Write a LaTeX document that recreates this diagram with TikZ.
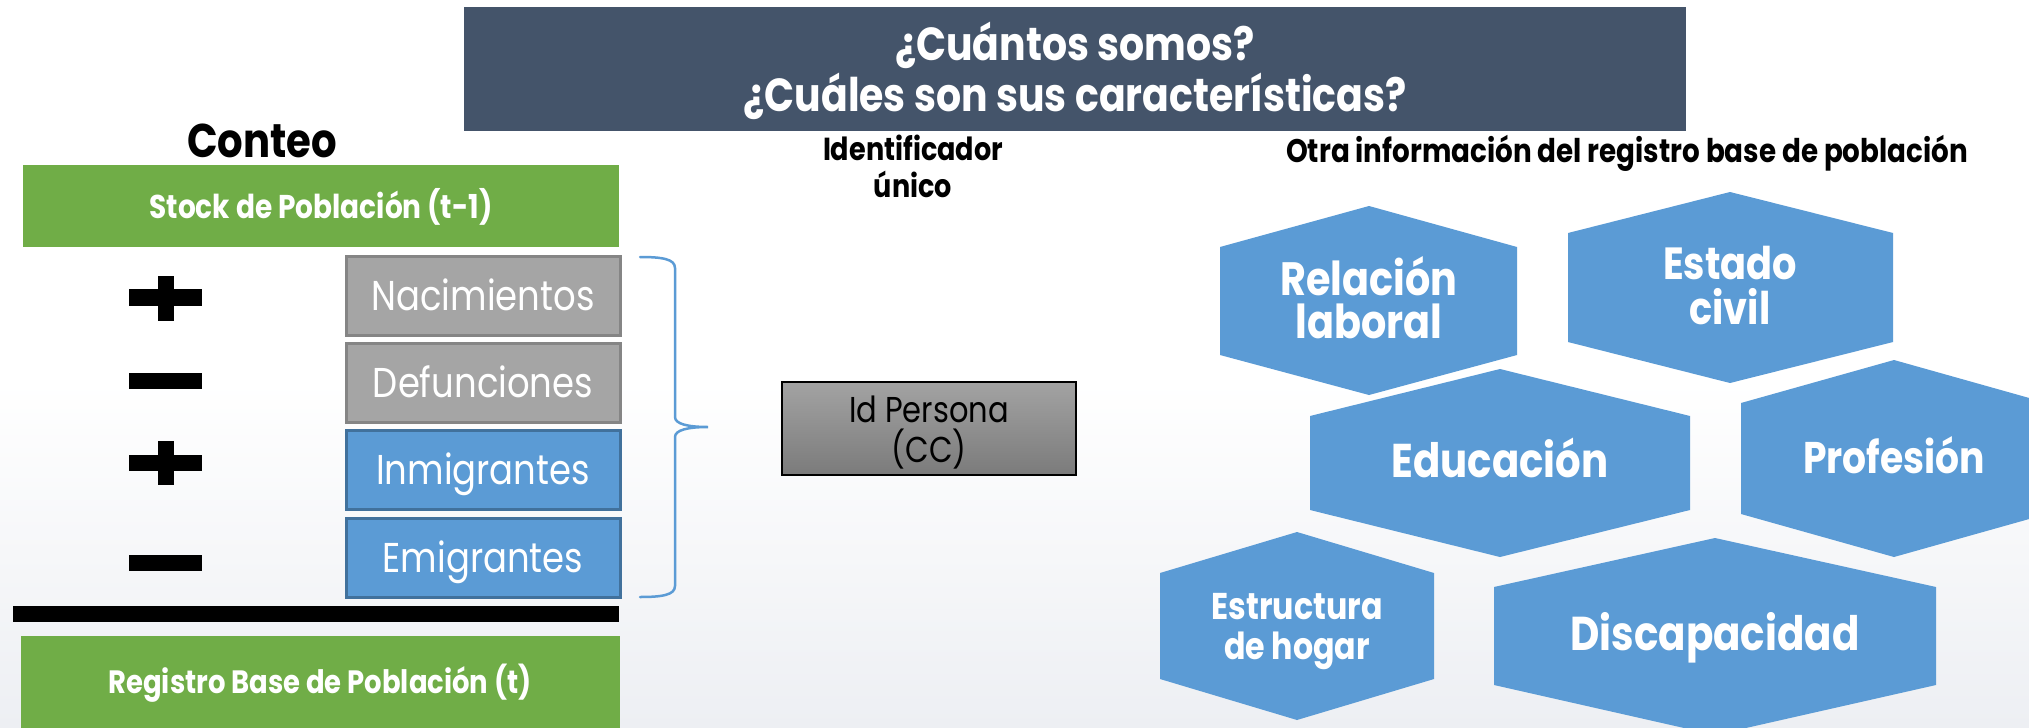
\documentclass[tikz,border=0pt]{standalone}
\usepackage{fontspec}
\setmainfont{Poppins}[FakeStretch=0.85]
\newcommand\fitsize[3]{%
  \fontsize{10pt}{12pt}\selectfont
  \setbox0=\hbox{#3}%
  \pgfmathsetmacro\fitwd{\the\wd0}%
  \pgfmathsetmacro\fitfs{10*#1/\fitwd}%
  \fontsize{\fitfs pt}{#2pt}\selectfont}
\definecolor{titlebg}{HTML}{44546A}
\definecolor{grn}{HTML}{70AD47}
\definecolor{gbox}{HTML}{A5A5A5}
\definecolor{gboxb}{HTML}{858585}
\definecolor{bbox}{HTML}{5B9BD5}
\definecolor{bboxb}{HTML}{41719C}
\definecolor{bgbot}{HTML}{EDEFF3}
\definecolor{idtop}{HTML}{A3A3A3}
\definecolor{idbot}{HTML}{7B7B7B}
\tikzset{
  greenbox/.style={fill=grn, inner sep=0pt, text=white, text height=24pt, text depth=0pt},
  flowgray/.style={fill=gbox, draw=gboxb, line width=3pt, inner sep=0pt, text=white,
    minimum width=274, minimum height=79, text height=28pt, text depth=0pt},
  flowblue/.style={flowgray, fill=bbox, draw=bboxb},
  hexfill/.style={fill=bbox},
  hextxt/.style={text=white, align=center, inner sep=0pt},
  blacktxt/.style={text=black, align=center, inner sep=0pt},
  bracestyle/.style={draw=bbox, line width=2.5pt, line cap=round},
  signshape/.style={fill=black},
  idbox/.style={top color=idtop, bottom color=idbot, draw=black, line width=2pt,
    minimum width=294, minimum height=93, inner sep=0pt},
}
\newcommand\hexa[7]{% apex x, left, right, top, sh, lsh, bottom
  \fill[hexfill] (#1,#4) -- (#3,#5) -- (#3,#6) -- (#1,#7) -- (#2,#6) -- (#2,#5) -- cycle;}
\begin{document}
\begin{tikzpicture}[x=1pt,y=-1pt]
\useasboundingbox (0,0) rectangle (2029,728);
\fill[white] (0,0) rectangle (2029,728);
\fill[top color=white, bottom color=bgbot] (0,380) rectangle (2029,728);

% title
\node[fill=titlebg, minimum width=1222, minimum height=124, inner sep=0pt] (title) at (1075,69) {};
\node[hextxt, font={\bfseries\fitsize{663}{51}{¿Cuáles son sus características?}}] (titletxt) at (1075,71)
  {¿Cuántos somos?\\¿Cuáles son sus características?};

% left column
\node[blacktxt, anchor=base, font={\bfseries\fitsize{150}{40}{Conteo}}] (conteo) at (262,157) {Conteo};
\node[greenbox, minimum width=596, minimum height=82, font={\bfseries\fitsize{343}{30}{Stock de Población (t-1)}}] (stock) at (321,206) {Stock de Población (t-1)};

\node[flowgray, font={\fitsize{223}{30}{Nacimientos}}] (nac) at (483,296) {Nacimientos};
\node[flowgray, font={\fitsize{223}{30}{Nacimientos}}] (def) at (483,383) {Defunciones};
\node[flowblue, font={\fitsize{223}{30}{Nacimientos}}] (inm) at (483,470) {Inmigrantes};
\node[flowblue, font={\fitsize{223}{30}{Nacimientos}}] (emi) at (483,558) {Emigrantes};

\fill[signshape] (129,289) rectangle (202,306);
\fill[signshape] (158,276) rectangle (174,321);
\fill[signshape] (129,373) rectangle (202,389);
\fill[signshape] (129,455) rectangle (202,471);
\fill[signshape] (158,441) rectangle (174,485);
\fill[signshape] (129,555) rectangle (202,571);

\fill[black] (13,606) rectangle (619,622);

\node[greenbox, minimum width=599, minimum height=92, text height=22pt, font={\bfseries\fitsize{423}{30}{Registro Base de Población (t)}}] (reg) at (320,682) {Registro Base de Población (t)};

% brace
\coordinate (btop) at (640,257);
\coordinate (bbot) at (640,597);
\coordinate (btip) at (708,427);
\draw[bracestyle] (btop) .. controls (662,257) and (675,259) .. (675,268) -- (675,417)
  .. controls (675,424) and (688,427) .. (btip)
  .. controls (688,427) and (675,430) .. (675,437) -- (675,586)
  .. controls (675,595) and (662,597) .. (bbot);

% identifier
\node[blacktxt, font={\bfseries\fitsize{180}{37}{Identificador}}] (ident) at (913,166) {Identificador\\único};
\node[idbox] (idp) at (929,428) {};
\node[blacktxt, font={\fitsize{160}{40}{Id Persona}}] (idptxt) at (929,433) {Id Persona\\(CC)};

% other information
\node[blacktxt, anchor=base, font={\bfseries\fitsize{682}{40}{Otra información del registro base de población}}] (otra) at (1627,162) {Otra información del registro base de población};

\hexa{1369}{1220}{1517}{206}{247}{355}{395}
\hexa{1730}{1568}{1893}{192}{233}{342}{383}
\hexa{1500}{1310}{1690}{369}{416}{510}{557}
\hexa{1894}{1741}{2047}{360}{403}{514}{557}
\hexa{1297}{1160}{1434}{532}{573}{679}{720}
\hexa{1715}{1494}{1936}{538}{587}{685}{735}

\node[hextxt, font={\bfseries\fitsize{177}{43}{Relación}}] (rel) at (1369,298) {Relación\\laboral};
\node[hextxt, font={\bfseries\fitsize{134}{45}{Estado}}] (est) at (1730,286) {Estado\\civil};
\node[hextxt, anchor=base, font={\bfseries\fitsize{217}{40}{Educación}}] (edu) at (1500,477) {Educación};
\node[hextxt, anchor=base, font={\bfseries\fitsize{182}{40}{Profesión}}] (pro) at (1894,473) {Profesión};
\node[hextxt, font={\bfseries\fitsize{171}{40}{Estructura}}] (hog) at (1297,632) {Estructura\\de hogar};
\node[hextxt, anchor=base, font={\bfseries\fitsize{289}{40}{Discapacidad}}] (dis) at (1715,650) {Discapacidad};
\end{tikzpicture}
\end{document}
